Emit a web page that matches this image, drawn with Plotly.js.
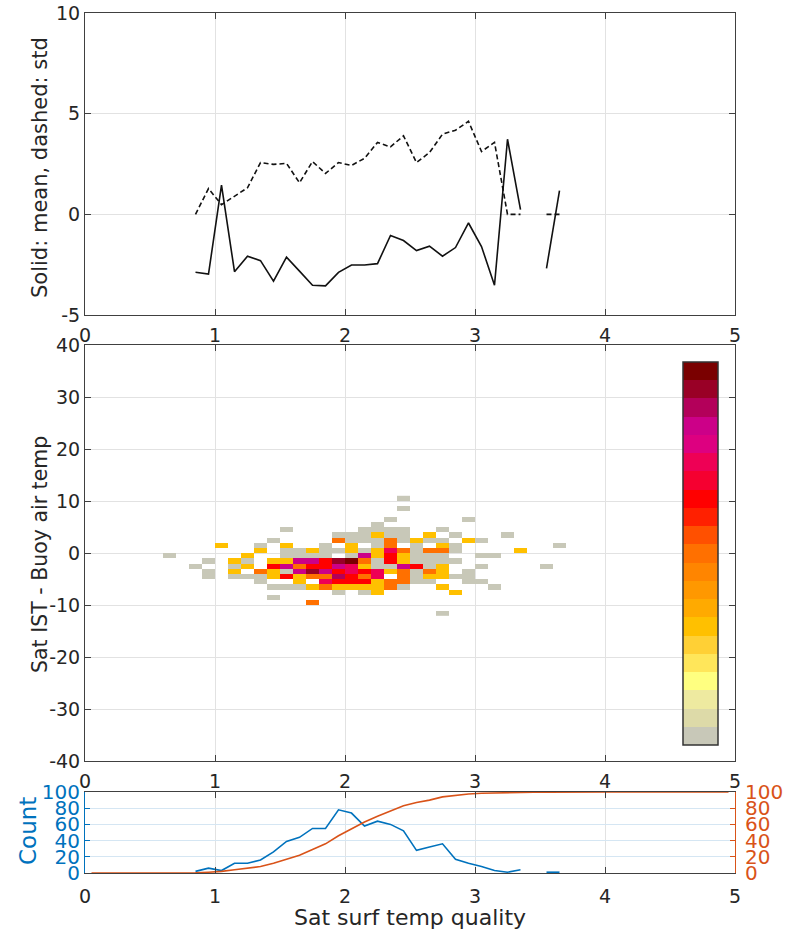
<!DOCTYPE html>
<html>
<head>
<meta charset="utf-8">
<script src="https://cdn.plot.ly/plotly-3.0.1.min.js"></script>
<style>html,body{margin:0;padding:0;background:#fff;}#chart{width:794px;height:934px;}</style>
</head>
<body>
<div id="chart"></div>
<script>
// ---------- Top panel: mean (solid) and std (dashed) per quality bin ----------
const binX = [0.85,0.95,1.05,1.15,1.25,1.35,1.45,1.55,1.65,1.75,1.85,1.95,2.05,2.15,2.25,2.35,2.45,2.55,2.65,2.75,2.85,2.95,3.05,3.15,3.25,3.35,3.45,3.55,3.65];
const meanVals = [-2.88,-2.97,1.45,-2.85,-2.08,-2.3,-3.32,-2.13,-2.82,-3.52,-3.55,-2.88,-2.52,-2.52,-2.45,-1.05,-1.3,-1.8,-1.58,-2.08,-1.65,-0.43,-1.6,-3.52,3.73,0.23,null,-2.68,1.18];
const stdVals  = [0,1.28,0.48,0.9,1.32,2.57,2.48,2.53,1.57,2.62,2.03,2.57,2.43,2.78,3.57,3.35,3.9,2.57,3.07,3.98,4.18,4.62,3.12,3.57,0,0,null,0,0];

// ---------- Middle panel: 2-D histogram cells (bin centre x, bin centre y, count) ----------
const heatX = [
 0.65,0.85,0.95,0.95,0.95,
 1.05,1.15,1.15,1.15,1.15,1.25,1.25,1.25,1.25,
 1.35,1.35,1.35,1.35,1.35,1.45,1.45,1.45,1.45,1.45,1.45,1.45,
 1.55,1.55,1.55,1.55,1.55,1.55,1.55,1.55,1.55,
 1.65,1.65,1.65,1.65,1.65,1.65,1.65,1.65,
 1.75,1.75,1.75,1.75,1.75,1.75,1.75,1.75,
 1.85,1.85,1.85,1.85,1.85,1.85,1.85,1.85,1.85,
 1.95,1.95,1.95,1.95,1.95,1.95,1.95,1.95,1.95,1.95,
 2.05,2.05,2.05,2.05,2.05,2.05,2.05,2.05,2.05,2.05,2.05,
 2.15,2.15,2.15,2.15,2.15,2.15,2.15,2.15,2.15,2.15,2.15,2.15,
 2.25,2.25,2.25,2.25,2.25,2.25,2.25,2.25,2.25,2.25,2.25,2.25,2.25,2.25,
 2.35,2.35,2.35,2.35,2.35,2.35,2.35,2.35,2.35,2.35,2.35,2.35,
 2.45,2.45,2.45,2.45,2.45,2.45,2.45,2.45,2.45,2.45,2.45,2.45,2.45,
 2.55,2.55,2.55,2.55,2.55,2.55,2.55,2.55,2.55,
 2.65,2.65,2.65,2.65,2.65,2.65,2.65,2.65,2.65,
 2.75,2.75,2.75,2.75,2.75,2.75,2.75,2.75,2.75,2.75,2.75,
 2.85,2.85,2.85,2.85,2.85,2.85,
 2.95,2.95,2.95,2.95,2.95,
 3.05,3.05,3.05,3.05,
 3.15,3.15,
 3.25,3.35,3.55,3.65
];
const heatY = [
 -0.5,-2.5,-1.5,-3.5,-4.5,
 1.5,-1.5,-2.5,-3.5,-4.5,-0.5,-1.5,-2.5,-4.5,
 1.5,0.5,-3.5,-4.5,-5.5,2.5,-1.5,-2.5,-3.5,-4.5,-6.5,-8.5,
 4.5,1.5,0.5,-0.5,-1.5,-2.5,-3.5,-4.5,-6.5,
 0.5,-0.5,-1.5,-2.5,-3.5,-4.5,-5.5,-6.5,
 0.5,-0.5,-1.5,-2.5,-3.5,-4.5,-6.5,-9.5,
 1.5,0.5,-0.5,-1.5,-2.5,-3.5,-4.5,-5.5,-6.5,
 3.5,2.5,0.5,-1.5,-2.5,-3.5,-4.5,-5.5,-6.5,-7.5,
 3.5,2.5,1.5,0.5,-0.5,-1.5,-2.5,-3.5,-4.5,-5.5,-6.5,
 4.5,3.5,2.5,0.5,-0.5,-1.5,-2.5,-3.5,-4.5,-5.5,-6.5,-7.5,
 5.5,4.5,3.5,2.5,1.5,0.5,-0.5,-1.5,-2.5,-3.5,-4.5,-5.5,-6.5,-7.5,
 6.5,4.5,3.5,2.5,1.5,0.5,-0.5,-1.5,-2.5,-3.5,-5.5,-6.5,
 10.5,8.5,4.5,3.5,2.5,0.5,-0.5,-1.5,-2.5,-3.5,-4.5,-5.5,-6.5,
 2.5,1.5,0.5,-0.5,-1.5,-2.5,-3.5,-4.5,-5.5,
 3.5,2.5,0.5,-0.5,-1.5,-2.5,-3.5,-4.5,-5.5,
 4.5,2.5,1.5,0.5,-0.5,-1.5,-2.5,-3.5,-4.5,-6.5,-11.5,
 3.5,1.5,0.5,-1.5,-4.5,-7.5,
 6.5,2.5,-3.5,-4.5,-5.5,
 2.5,-0.5,-2.5,-5.5,
 -0.5,-6.5,
 3.5,0.5,-2.5,1.5
];
const heatCount = [
 1,1,1,1,1,
 2,2,1,2,1,2,1,2,1,
 1,2,3,1,1,1,2,4,2,2,1,1,
 1,2,1,1,2,6,1,4,1,
 1,1,6,3,6,2,2,1,
 2,1,6,4,8,3,2,3,
 1,1,1,4,4,6,3,5,3,
 1,3,1,8,6,4,7,4,2,1,
 1,1,2,2,1,9,5,5,4,4,2,
 1,1,1,1,6,3,2,4,3,4,2,1,
 1,1,2,1,1,2,2,1,1,5,5,2,2,2,
 1,1,1,3,3,5,4,4,1,2,3,3,
 1,1,1,1,1,3,2,2,6,3,3,3,1,
 2,1,1,1,1,4,1,1,1,
 2,1,3,1,1,1,3,2,1,
 1,1,2,3,1,1,2,2,2,2,1,
 1,1,1,1,1,2,
 1,2,1,1,1,
 1,1,1,1,
 1,1,
 1,2,1,1
];

// ---------- Bottom panel: count per bin (left) and cumulative percent (right) ----------
const countX = [0.65,0.75,0.85,0.95,1.05,1.15,1.25,1.35,1.45,1.55,1.65,1.75,1.85,1.95,2.05,2.15,2.25,2.35,2.45,2.55,2.65,2.75,2.85,2.95,3.05,3.15,3.25,3.35,3.45,3.55,3.65];
const countVals = [1,null,2,6,3,12,12,16,26,39,44,55,55,78,74,58,64,60,52,28,32,36,17,12,8,3,1,4,null,1,1];
const cumX = [0.05,0.15,0.25,0.35,0.45,0.55,0.65,0.75,0.85,0.95,1.05,1.15,1.25,1.35,1.45,1.55,1.65,1.75,1.85,1.95,2.05,2.15,2.25,2.35,2.45,2.55,2.65,2.75,2.85,2.95,3.05,3.15,3.25,3.35,3.45,3.55,3.65,3.75,3.85,3.95,4.05,4.15,4.25,4.35,4.45,4.55,4.65,4.75,4.85,4.95];
const cumVals = [0,0,0,0,0,0,0,0,0.3,1,2,4,6,8,12,17,22,29,36,46,55,63,70,77,83,87,90,94,96,97.5,98.5,99,99.3,99.7,99.7,99.8,100,100,100,100,100,100,100,100,100,100,100,100,100,100];

// ---------- tick labels ----------
const xTicks = [0,1,2,3,4,5];
const topYTicks = [-5,0,5,10];
const topYText = ['-5','0','5','10'];
const midYTicks = [-40,-30,-20,-10,0,10,20,30,40];
const midYText = ['-40','-30','-20','-10','0','10','20','30','40'];
const pctTicks = [0,20,40,60,80,100];

// colour levels of the colorbar, bottom to top
const levelColors = ['#c8c8b8','#dddaa8','#eeeaa0','#ffff80','#ffe65a','#ffd035','#ffc000','#ffaa00','#ff9800','#ff8500','#ff7000','#ff5000','#ff2000','#ff0000','#f50030','#ee0055','#dd0080','#cc0088','#b3005a','#990026','#7a0000'];

// ---------- build heatmap grid ----------
const gx = [], gy = [];
for (let i = 0; i <= 30; i++) gx.push(+(0.65 + i * 0.1).toFixed(2));
for (let j = 0; j <= 22; j++) gy.push(-11.5 + j);
const gz = gy.map(() => gx.map(() => null));
for (let k = 0; k < heatX.length; k++) {
  const ci = Math.round((heatX[k] - 0.65) * 10);
  const ri = Math.round(heatY[k] + 11.5);
  gz[ri][ci] = Math.log10(heatCount[k]);
}
const cs = [];
const n = levelColors.length;
levelColors.forEach((c, i) => { cs.push([i / n, c]); cs.push([(i + 1) / n, c]); });

const FONT = 'DejaVu Sans';
const TXT = '#262626';
const AX = '#404040';
const GRID = '#e2e2e2';
const BLUE = '#0072BD';
const ORANGE = '#D95319';
const TF = 19;

const xl = 85/794, xr = 735/794;
function dom(topPx, botPx) { return [1 - botPx/934, 1 - topPx/934]; }

const baseX = {
  range: [0,5], tickvals: xTicks, ticks: 'inside', ticklen: 6, tickcolor: AX,
  showline: true, linecolor: AX, linewidth: 1, mirror: 'ticks',
  showgrid: true, gridcolor: GRID, gridwidth: 1, zeroline: false, ticklabelstandoff: 3,
  tickfont: {family: FONT, size: TF, color: TXT}, domain: [xl, xr], fixedrange: true
};
const baseY = {
  ticks: 'inside', ticklen: 6, tickcolor: AX, showline: true, linecolor: AX, linewidth: 1, mirror: 'ticks',
  showgrid: true, gridcolor: GRID, zeroline: false, tickfont: {family: FONT, size: TF, color: TXT}, fixedrange: true
};

const traces = [
  {x: binX, y: meanVals, xaxis: 'x', yaxis: 'y', type: 'scatter', mode: 'lines',
   line: {color: '#111', width: 1.6}, connectgaps: false, hoverinfo: 'skip'},
  {x: binX, y: stdVals, xaxis: 'x', yaxis: 'y', type: 'scatter', mode: 'lines',
   line: {color: '#111', width: 1.6, dash: '5px,3px'}, connectgaps: false, hoverinfo: 'skip'},
  {x: gx, y: gy, z: gz, xaxis: 'x2', yaxis: 'y2', type: 'heatmap', colorscale: cs,
   zmin: 0, zmax: Math.log10(9), zsmooth: false, hoverinfo: 'skip',
   colorbar: {x: 683/794, xanchor: 'left', y: 1 - 553.5/934, yanchor: 'middle',
     lenmode: 'pixels', len: 383, thicknessmode: 'pixels', thickness: 35,
     xpad: 0, ypad: 0, outlinecolor: '#333', outlinewidth: 1.5,
     showticklabels: false, ticks: ''}},
  {x: countX, y: countVals, xaxis: 'x3', yaxis: 'y3', type: 'scatter', mode: 'lines',
   line: {color: BLUE, width: 1.6}, connectgaps: false, hoverinfo: 'skip'},
  {x: cumX, y: cumVals, xaxis: 'x3', yaxis: 'y4', type: 'scatter', mode: 'lines',
   line: {color: ORANGE, width: 1.6}, hoverinfo: 'skip'}
];

const layout = {
  width: 794, height: 934, margin: {l: 0, r: 0, t: 0, b: 0},
  paper_bgcolor: '#fff', plot_bgcolor: '#fff', showlegend: false,
  font: {family: FONT, color: TXT},
  xaxis: Object.assign({}, baseX, {anchor: 'y'}),
  yaxis: Object.assign({}, baseY, {domain: dom(13, 315), range: [-5,10], tickvals: topYTicks, ticktext: topYText, anchor: 'x'}),
  xaxis2: Object.assign({}, baseX, {anchor: 'y2'}),
  yaxis2: Object.assign({}, baseY, {domain: dom(345, 761), range: [-40,40], tickvals: midYTicks, ticktext: midYText, anchor: 'x2'}),
  xaxis3: Object.assign({}, baseX, {anchor: 'y3', ticklabelstandoff: 6}),
  yaxis3: {domain: dom(792, 873), range: [0,100], tickvals: pctTicks, anchor: 'x3',
    ticks: 'inside', ticklen: 5, tickcolor: BLUE, showline: true, linecolor: BLUE, linewidth: 1,
    showgrid: true, gridcolor: '#d5e6f3', zeroline: false, tickfont: {family: FONT, size: 20, color: BLUE}, fixedrange: true},
  yaxis4: {overlaying: 'y3', side: 'right', range: [0,100], tickvals: pctTicks, anchor: 'x3',
    ticks: 'inside', ticklen: 5, tickcolor: ORANGE, showline: true, linecolor: ORANGE, linewidth: 1, ticklabelstandoff: 5,
    showgrid: false, zeroline: false, tickfont: {family: FONT, size: 20, color: ORANGE}, fixedrange: true},
  annotations: [
    {text: 'Solid: mean, dashed: std', xref: 'paper', yref: 'paper', x: 40/794, y: 1 - 168/934,
     textangle: -90, showarrow: false, font: {family: FONT, size: 21, color: TXT}, xanchor: 'center', yanchor: 'middle'},
    {text: 'Sat IST - Buoy air temp', xref: 'paper', yref: 'paper', x: 40/794, y: 1 - 555/934,
     textangle: -90, showarrow: false, font: {family: FONT, size: 20.5, color: TXT}, xanchor: 'center', yanchor: 'middle'},
    {text: 'Count', xref: 'paper', yref: 'paper', x: 28/794, y: 1 - 831/934,
     textangle: -90, showarrow: false, font: {family: FONT, size: 23, color: BLUE}, xanchor: 'center', yanchor: 'middle'},
    {text: 'Sat surf temp quality', xref: 'paper', yref: 'paper', x: 410/794, y: 1 - 917/934,
     showarrow: false, font: {family: FONT, size: 22, color: TXT}, xanchor: 'center', yanchor: 'middle'}
  ]
};

Plotly.newPlot('chart', traces, layout, {staticPlot: true, displayModeBar: false});
</script>
</body>
</html>
